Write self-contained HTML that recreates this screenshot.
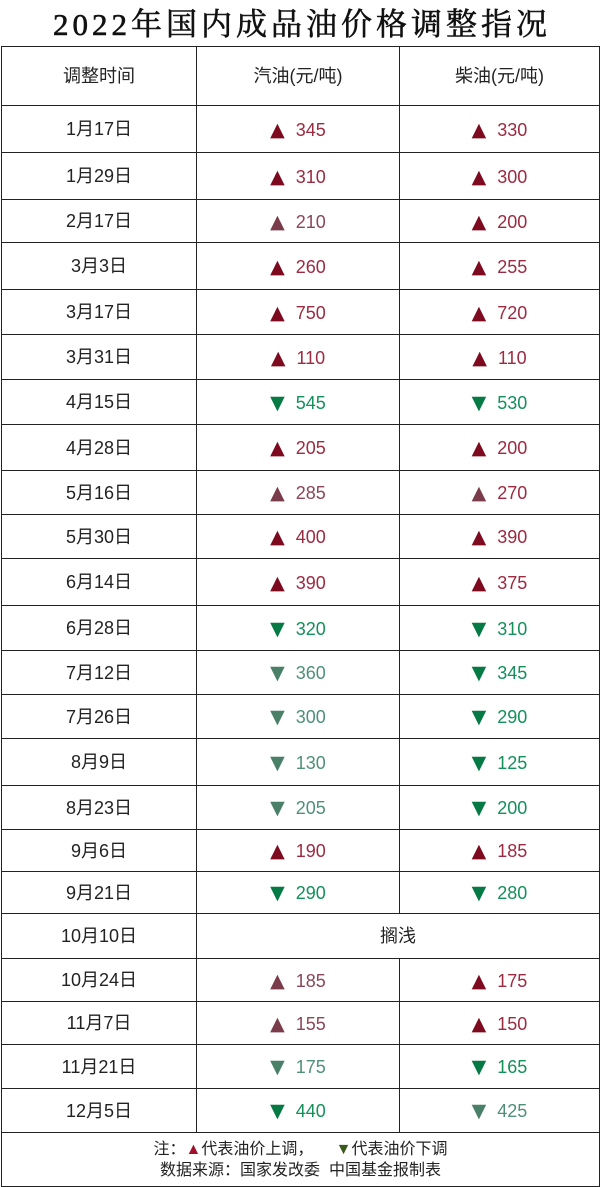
<!DOCTYPE html>
<html><head><meta charset="utf-8"><style>
body{margin:0;background:#fff;width:600px;height:1187px;overflow:hidden;font-family:"Liberation Sans","Noto Sans CJK SC",sans-serif;}
.t{position:absolute;left:0;top:0;width:600px;height:46px;text-align:center;font-size:31px;font-weight:normal;line-height:50px;color:#111;letter-spacing:4px;text-indent:4px;white-space:nowrap;font-family:"Liberation Serif","Noto Serif CJK SC",serif;-webkit-text-stroke:0.6px #111}
table{position:absolute;left:1px;top:46px;width:598px;border-collapse:collapse;table-layout:fixed}
td{border:1.5px solid #222;text-align:center;padding:0;font-size:18px;line-height:20px;color:#222;vertical-align:middle;font-family:"Liberation Sans","Noto Sans CJK SC",sans-serif}
td span{display:inline-block;vertical-align:middle;line-height:20px}
.u,.d,.ul,.dl{font-size:19px;margin-right:11px;font-family:"DejaVu Sans",sans-serif}
.u{color:#7e0a1f}.ul{color:#7a3c4a}.d{color:#067a45}.dl{color:#4a8068}
.r{color:#9c2a40}.g{color:#14905a}.rl{color:#8a4758}.gl{color:#4f9078}
.f{font-size:16px;line-height:21px}
.f span{line-height:21px;vertical-align:baseline}
</style></head><body>
<div class="t">2022年国内成品油价格调整指况</div>
<table>
<colgroup><col style="width:195px"><col style="width:203px"><col style="width:200px"></colgroup>
<tr style="height:59px"><td>调整时间</td><td>汽油(元/吨)</td><td>柴油(元/吨)</td></tr>
<tr style="height:47px"><td>1月17日</td><td><span class="u">▲</span><span class="r">345</span></td><td><span class="u">▲</span><span class="r">330</span></td></tr>
<tr style="height:47px"><td>1月29日</td><td><span class="u">▲</span><span class="r">310</span></td><td><span class="u">▲</span><span class="r">300</span></td></tr>
<tr style="height:43px"><td>2月17日</td><td><span class="ul">▲</span><span class="rl">210</span></td><td><span class="u">▲</span><span class="r">200</span></td></tr>
<tr style="height:47px"><td>3月3日</td><td><span class="u">▲</span><span class="r">260</span></td><td><span class="u">▲</span><span class="r">255</span></td></tr>
<tr style="height:45px"><td>3月17日</td><td><span class="u">▲</span><span class="r">750</span></td><td><span class="u">▲</span><span class="r">720</span></td></tr>
<tr style="height:45px"><td>3月31日</td><td><span class="u">▲</span><span class="r">110</span></td><td><span class="u">▲</span><span class="r">110</span></td></tr>
<tr style="height:45px"><td>4月15日</td><td><span class="d">▼</span><span class="g">545</span></td><td><span class="d">▼</span><span class="g">530</span></td></tr>
<tr style="height:46px"><td>4月28日</td><td><span class="u">▲</span><span class="r">205</span></td><td><span class="u">▲</span><span class="r">200</span></td></tr>
<tr style="height:44px"><td>5月16日</td><td><span class="ul">▲</span><span class="rl">285</span></td><td><span class="ul">▲</span><span class="r">270</span></td></tr>
<tr style="height:44px"><td>5月30日</td><td><span class="u">▲</span><span class="r">400</span></td><td><span class="u">▲</span><span class="r">390</span></td></tr>
<tr style="height:47px"><td>6月14日</td><td><span class="u">▲</span><span class="r">390</span></td><td><span class="u">▲</span><span class="r">375</span></td></tr>
<tr style="height:45px"><td>6月28日</td><td><span class="d">▼</span><span class="g">320</span></td><td><span class="d">▼</span><span class="g">310</span></td></tr>
<tr style="height:44px"><td>7月12日</td><td><span class="dl">▼</span><span class="gl">360</span></td><td><span class="d">▼</span><span class="g">345</span></td></tr>
<tr style="height:44px"><td>7月26日</td><td><span class="dl">▼</span><span class="gl">300</span></td><td><span class="d">▼</span><span class="g">290</span></td></tr>
<tr style="height:47px"><td>8月9日</td><td><span class="dl">▼</span><span class="gl">130</span></td><td><span class="d">▼</span><span class="g">125</span></td></tr>
<tr style="height:44px"><td>8月23日</td><td><span class="dl">▼</span><span class="gl">205</span></td><td><span class="d">▼</span><span class="g">200</span></td></tr>
<tr style="height:42px"><td>9月6日</td><td><span class="u">▲</span><span class="r">190</span></td><td><span class="u">▲</span><span class="r">185</span></td></tr>
<tr style="height:42px"><td>9月21日</td><td><span class="d">▼</span><span class="g">290</span></td><td><span class="d">▼</span><span class="g">280</span></td></tr>
<tr style="height:45px"><td>10月10日</td><td colspan="2">搁浅</td></tr>
<tr style="height:43px"><td>10月24日</td><td><span class="ul">▲</span><span class="rl">185</span></td><td><span class="u">▲</span><span class="r">175</span></td></tr>
<tr style="height:43px"><td>11月7日</td><td><span class="ul">▲</span><span class="rl">155</span></td><td><span class="u">▲</span><span class="r">150</span></td></tr>
<tr style="height:44px"><td>11月21日</td><td><span class="dl">▼</span><span class="gl">175</span></td><td><span class="d">▼</span><span class="g">165</span></td></tr>
<tr style="height:44px"><td>12月5日</td><td><span class="d">▼</span><span class="g">440</span></td><td><span class="dl">▼</span><span class="gl">425</span></td></tr>
<tr style="height:54px"><td colspan="3" class="f">注：<span style="color:#a0102a">▲</span>代表油价上调，&nbsp;&nbsp;&nbsp;&nbsp;&nbsp;<span style="color:#3a5a1a">▼</span>代表油价下调<br>数据来源：国家发改委&nbsp;&nbsp;中国基金报制表</td></tr>
</table>
</body></html>
